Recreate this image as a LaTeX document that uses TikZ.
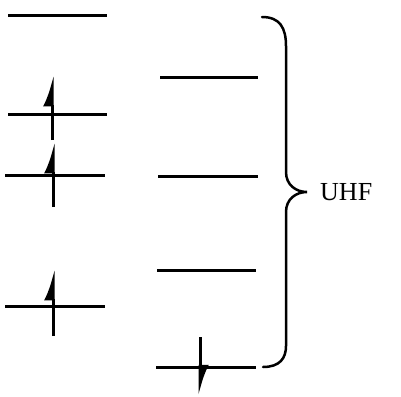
\documentclass[tikz,border=0pt]{standalone}
\usepackage{fontspec}
\setmainfont{Liberation Serif}
\usetikzlibrary{
    arrows.meta % For the half arrow tips
}

\begin{document}
\begin{tikzpicture}[
    x=1pt, y=-1pt, % Picture coordinates follow the image (y downwards)
    level/.style={line width=3pt}, % Style for energy levels
    spin/.style={line width=3pt, -{Latex[left, length=25pt, width=18pt]}}, % Half arrow for spins
    bracestyle/.style={line width=2.5pt, line cap=round}, % Style for the curly brace
    labelstyle/.style={font=\fontsize{26}{30}\selectfont} % Style for the label
]
    \useasboundingbox (0, 0) rectangle (401, 396);

    % Left column levels
    \coordinate (L1a) at (8, 16);   \coordinate (L1b) at (107, 16);
    \coordinate (L2a) at (8, 114);  \coordinate (L2b) at (107, 114);
    \coordinate (L3a) at (5, 175);  \coordinate (L3b) at (105, 175);
    \coordinate (L4a) at (5, 306);  \coordinate (L4b) at (105, 306);

    % Right column levels
    \coordinate (R1a) at (160, 77);  \coordinate (R1b) at (258, 77);
    \coordinate (R2a) at (158, 176); \coordinate (R2b) at (258, 176);
    \coordinate (R3a) at (157, 270); \coordinate (R3b) at (256, 270);
    \coordinate (R4a) at (156, 367); \coordinate (R4b) at (256, 367);

    \draw[level] (L1a) -- (L1b);
    \draw[level] (L2a) -- (L2b);
    \draw[level] (L3a) -- (L3b);
    \draw[level] (L4a) -- (L4b);
    \draw[level] (R1a) -- (R1b);
    \draw[level] (R2a) -- (R2b);
    \draw[level] (R3a) -- (R3b);
    \draw[level] (R4a) -- (R4b);

    % Spin arrows (tail and tip)
    \coordinate (S2s) at (52, 140); \coordinate (S2t) at (52, 75);
    \coordinate (S3s) at (53, 207); \coordinate (S3t) at (53, 142);
    \coordinate (S4s) at (53, 336); \coordinate (S4t) at (53, 269);
    \coordinate (S5s) at (200, 337); \coordinate (S5t) at (200, 396);

    \draw[spin] (S2s) -- (S2t); % Spin up
    \draw[spin] (S3s) -- (S3t); % Spin up
    \draw[spin] (S4s) -- (S4t); % Spin up
    \draw[spin] (S5s) -- (S5t); % Spin down

    % Brace round the right column
    \coordinate (BrTop) at (262, 17);
    \coordinate (BrTip) at (307, 192);
    \coordinate (BrBot) at (263, 367);
    \draw[bracestyle] (BrTop) .. controls (280, 17) and (286, 28) .. (286, 46)
        -- (286, 172) .. controls (286, 185) and (296, 192) .. (BrTip)
        .. controls (296, 192) and (286, 199) .. (286, 212)
        -- (286, 346) .. controls (286, 358) and (280, 367) .. (BrBot);

    % Label
    \node[labelstyle, anchor=west, inner sep=0pt] (uhf) at (320, 192) {UHF};

\end{tikzpicture}
\end{document}
